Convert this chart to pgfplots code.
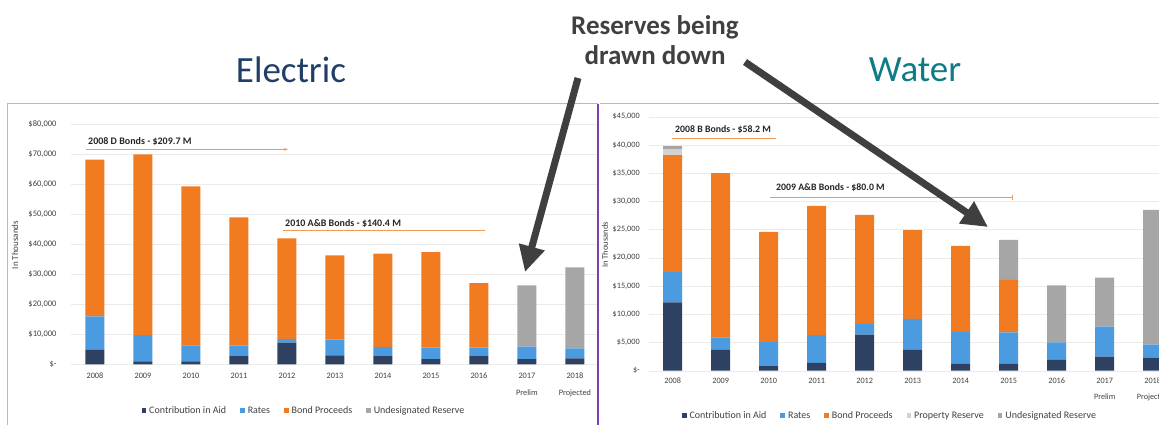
\documentclass[border=0pt]{standalone}
\usepackage{fontspec}
\setmainfont{Carlito}
\usepackage{pgfplots}
\usepackage{pgfplotstable}
\pgfplotsset{compat=1.18}
\usetikzlibrary{arrows.meta}
\definecolor{cia}{HTML}{2E4163}
\definecolor{rates}{HTML}{4B9BE0}
\definecolor{bond}{HTML}{F27B22}
\definecolor{undes}{HTML}{A6A6A6}
\definecolor{prop}{HTML}{D2D2D2}
\definecolor{txt}{HTML}{404040}
\definecolor{elec}{HTML}{1F3F66}
\definecolor{water}{HTML}{0E7C86}
\definecolor{frame}{HTML}{BDB0DA}
\definecolor{frameR}{HTML}{7B3FB5}
\definecolor{annor}{HTML}{F39A55}
\definecolor{bigarrow}{HTML}{3F3F3F}

% Electric (in thousands of $)
\pgfplotstableread{
x cia rates bond undes
0 4800 11200 52200 0
1 1000 8700 60300 0
2 1000 5300 53000 0
3 2700 3500 42800 0
4 7200 1300 33500 0
5 3000 5200 28100 0
6 2700 3100 31100 0
7 1700 3900 31800 0
8 2700 2900 21500 0
9 1700 4200 0 20400
10 2000 3300 0 27000
}\electric

% Water (in thousands of $)
\pgfplotstableread{
x cia rates bond prop undes
0 12100 5400 20700 1000 600
1 3700 2200 29100 0 0
2 800 4300 19500 0 0
3 1400 4900 22900 0 0
4 6400 1900 19300 0 0
5 3700 5500 15700 0 0
6 1200 5700 15200 0 0
7 1200 5600 9300 0 7100
8 1900 3100 0 0 10100
9 2500 5300 0 0 8700
10 2300 2300 0 0 23900
}\water

\pgfplotsset{
  legsq/.style={legend image code/.code={\fill[##1] (0pt,-2.3pt) rectangle (4.6pt,2.3pt);}},
  mybars/.style={
    ybar stacked, scale only axis, bar width=19pt,
    xmin=-0.5, xmax=10.5, ymin=0,
    enlargelimits=false, clip=false,
    scaled y ticks=false,
    axis line style={draw=none}, tick style={draw=none},
    ymajorgrids, major grid style={black!8},
    xtick={0,...,10},
    xticklabels={2008,2009,2010,2011,2012,2013,2014,2015,2016,{2017\\Prelim},{2018\\Projected}},
    xticklabel style={align=center, text=txt},
    yticklabel style={text=txt},
    legend columns=-1,
    legend style={draw=none, fill=none, text=txt, font=\fontsize{10}{12}\selectfont,
      /tikz/every even column/.append style={column sep=12pt},
      /tikz/every odd column/.append style={column sep=1pt}},
  }
}

\begin{document}
\begin{tikzpicture}
\useasboundingbox (0pt,0pt) rectangle (1159pt,-425pt);
\clip (0pt,0pt) rectangle (1159pt,-425pt);
\fill[white] (0pt,0pt) rectangle (1159pt,-425pt);

% Electric chart
\begin{axis}[mybars,
  at={(71pt,-364.3pt)}, anchor=south west,
  width=526pt, height=240pt, ymax=80000,
  ytick={0,10000,...,80000},
  yticklabels={\$-,{\$10,000},{\$20,000},{\$30,000},{\$40,000},{\$50,000},{\$60,000},{\$70,000},{\$80,000}},
  yticklabel style={font=\fontsize{8.5}{10}\selectfont, xshift=-11pt},
  xticklabel style={font=\fontsize{8.3}{17}\selectfont, yshift=-5pt},
  legend style={at={(0.443,-0.193)}, anchor=center},
  xmax=10.46,
]
\addplot[fill=cia, draw=none, legsq] table[x=x, y=cia] {\electric};
\addlegendentry{Contribution in Aid}
\addplot[fill=rates, draw=none, legsq] table[x=x, y=rates] {\electric};
\addlegendentry{Rates}
\addplot[fill=bond, draw=none, legsq] table[x=x, y=bond] {\electric};
\addlegendentry{Bond Proceeds}
\addplot[fill=undes, draw=none, legsq] table[x=x, y=undes] {\electric};
\addlegendentry{Undesignated Reserve}
\end{axis}

% Water chart
\begin{axis}[mybars,
  at={(648.7pt,-370.7pt)}, anchor=south west,
  width=528pt, height=254pt, ymax=45000,
  ytick={0,5000,...,45000},
  yticklabels={\$-,{\$5,000},{\$10,000},{\$15,000},{\$20,000},{\$25,000},{\$30,000},{\$35,000},{\$40,000},{\$45,000}},
  yticklabel style={font=\fontsize{8.2}{10}\selectfont, xshift=-5.5pt},
  xticklabel style={font=\fontsize{8.2}{16}\selectfont, yshift=-4pt},
  legend style={at={(0.457,-0.177)}, anchor=center},
]
\addplot[fill=cia, draw=none, legsq] table[x=x, y=cia] {\water};
\addlegendentry{Contribution in Aid}
\addplot[fill=rates, draw=none, legsq] table[x=x, y=rates] {\water};
\addlegendentry{Rates}
\addplot[fill=bond, draw=none, legsq] table[x=x, y=bond] {\water};
\addlegendentry{Bond Proceeds}
\addplot[fill=prop, draw=none, legsq] table[x=x, y=prop] {\water};
\addlegendentry{Property Reserve}
\addplot[fill=undes, draw=none, legsq] table[x=x, y=undes] {\water};
\addlegendentry{Undesignated Reserve}
\end{axis}

% frames
\draw[frame, line width=1pt] (7pt,-440pt) -- (7pt,-104pt) -- (598pt,-104pt);
\draw[frame, line width=1pt] (600pt,-104pt) -- (1170pt,-104pt);
\draw[frameR, line width=1.2pt] (598pt,-104pt) -- (598pt,-440pt);

% y labels
\node[rotate=90, text=txt, font=\fontsize{9}{10}\selectfont] at (15pt,-245pt) {In Thousands};
\node[rotate=90, text=txt, font=\fontsize{8.5}{10}\selectfont] at (605pt,-245pt) {In Thousands};

% bond annotations
\node[anchor=west, font=\bfseries\fontsize{10}{12}\selectfont, text=black!85, inner sep=0pt] at (88pt,-141.7pt) {2008 D Bonds - \$209.7 M};
\draw[annor, line width=0.8pt, -{Stealth[length=4pt,width=3pt]}] (86pt,-149.3pt) -- (288pt,-149.3pt);
\node[anchor=west, font=\bfseries\fontsize{10}{12}\selectfont, text=black!85, inner sep=0pt] at (285pt,-224pt) {2010 A\&B Bonds - \$140.4 M};
\draw[annor, line width=0.8pt] (283pt,-230.7pt) -- (485pt,-230.7pt);
\node[anchor=west, font=\bfseries\fontsize{9.8}{12}\selectfont, text=black!85, inner sep=0pt] at (675pt,-130pt) {2008 B Bonds - \$58.2 M};
\draw[annor, line width=0.8pt] (672pt,-138.7pt) -- (776pt,-138.7pt);
\node[anchor=west, font=\bfseries\fontsize{9.8}{12}\selectfont, text=black!85, inner sep=0pt] at (776pt,-187.3pt) {2009 A\&B Bonds - \$80.0 M};
\draw[annor, line width=0.8pt] (770pt,-197.3pt) -- (1012pt,-197.3pt);
\draw[annor, line width=0.6pt] (1012pt,-194.5pt) -- (1012pt,-200pt);

% titles
\node[text=elec, font=\fontsize{37}{40}\selectfont] at (291pt,-70pt) {Electric};
\node[text=water, font=\fontsize{37}{40}\selectfont] at (915pt,-70pt) {Water};
\node[text=txt, align=center, font=\bfseries\fontsize{27}{30}\selectfont] at (655pt,-40pt) {Reserves being\\drawn down};

% big arrows
\draw[bigarrow, line width=7pt, -{Triangle[length=26pt,width=25pt]}] (578pt,-78pt) -- (525pt,-272pt);
\draw[bigarrow, line width=7pt, -{Triangle[length=26pt,width=25pt]}] (745pt,-62pt) -- (988pt,-227pt);
\end{tikzpicture}
\end{document}
